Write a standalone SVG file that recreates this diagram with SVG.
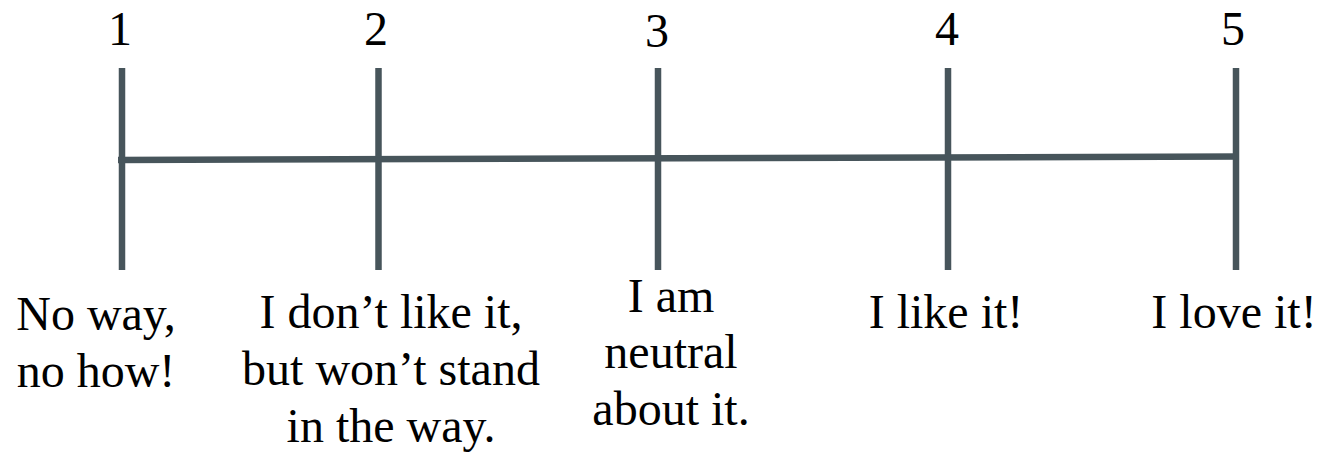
<svg xmlns="http://www.w3.org/2000/svg" width="1324" height="453" viewBox="0 0 1324 453">
<style>
.ln{stroke:#47555b;stroke-width:6.5;fill:none;stroke-linecap:butt}
.t{font-family:"Liberation Serif","Times New Roman",serif;font-size:48px;fill:#000;text-anchor:middle}
</style>
<rect width="1324" height="453" fill="#fff"/>
<g id="connectors">
<line class="ln" x1="118" y1="160" x2="1239" y2="156.5"/>
</g>
<g id="n1">
<line class="ln" x1="122" y1="68" x2="122" y2="270"/>
<text class="t" x="120" y="45">1</text>
<text class="t" x="96" y="330">No way,</text>
<text class="t" x="96" y="387">no how!</text>
</g>
<g id="n2">
<line class="ln" x1="378.5" y1="68" x2="378.5" y2="270"/>
<text class="t" x="376" y="45">2</text>
<text class="t" x="391" y="328">I don’t like it,</text>
<text class="t" x="391" y="385">but won’t stand</text>
<text class="t" x="391" y="442">in the way.</text>
</g>
<g id="n3">
<line class="ln" x1="658" y1="68" x2="658" y2="270"/>
<text class="t" x="657" y="47">3</text>
<text class="t" x="671" y="312">I am</text>
<text class="t" x="671" y="368">neutral</text>
<text class="t" x="671" y="425">about it.</text>
</g>
<g id="n4">
<line class="ln" x1="948" y1="68" x2="948" y2="270"/>
<text class="t" x="947" y="45">4</text>
<text class="t" x="946" y="328">I like it!</text>
</g>
<g id="n5">
<line class="ln" x1="1236" y1="68" x2="1236" y2="270"/>
<text class="t" x="1233" y="45">5</text>
<text class="t" x="1234" y="328">I love it!</text>
</g>
</svg>
